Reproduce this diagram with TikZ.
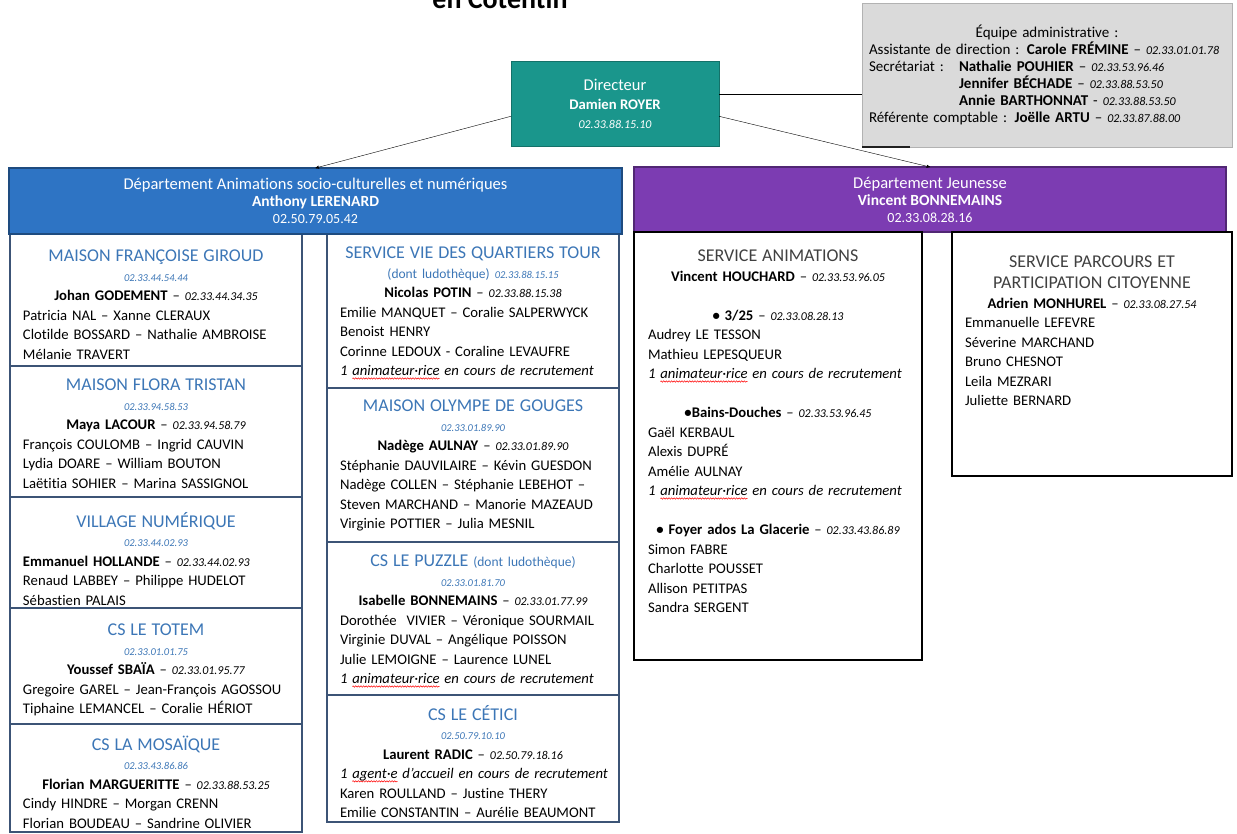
\documentclass[tikz,border=0pt]{standalone}
\usepackage{fontspec}
\setmainfont{Carlito}[Ligatures={TeX,NoCommon}]
\usetikzlibrary{positioning, arrows, decorations.pathmorphing}

\definecolor{dirteal}{RGB}{26,150,140}
\definecolor{socioblue}{RGB}{46,116,196}
\definecolor{jeunpurple}{RGB}{124,60,178}
\definecolor{unitline}{RGB}{60,84,118}
\definecolor{unitblue}{RGB}{60,118,182}
\definecolor{servgray}{RGB}{64,64,64}
\definecolor{admingray}{RGB}{218,218,218}

\setlength{\parindent}{0pt}
\setlength{\parskip}{0pt}

\newsavebox{\wavebox}
\newcommand{\spellwave}[1]{\sbox{\wavebox}{#1}\rlap{\tikz[overlay, baseline=0pt]\draw[red, line width=0.5pt, decorate, decoration={snake, amplitude=0.7pt, segment length=2.6pt}] (0pt,-2.8pt) -- (\the\wd\wavebox,-2.8pt);}#1}

\newcommand{\unittitle}[1]{{\fontsize{18}{19.5}\selectfont\color{unitblue}#1}}
\newcommand{\servtitle}[1]{{\fontsize{18}{19.5}\selectfont\color{servgray}#1}}
\newcommand{\unittel}[1]{{\fontsize{10.5}{19.5}\selectfont\itshape\color{unitblue}#1}}
\newcommand{\ludo}{{\fontsize{13.5}{19.5}\selectfont\color{unitblue}(dont ludothèque)}}
\newcommand{\ph}[1]{{\fontsize{12}{19.5}\selectfont\itshape#1}}
\newcommand{\lead}[2]{\textbf{#1} – \ph{#2}}
\newcommand{\recrut}[1]{\textit{1 \spellwave{#1} en cours de recrutement}}

\tikzset{
    every node/.style={inner sep=0pt, outer sep=0pt, font=\fontsize{14.7}{19.5}\selectfont},
    link/.style={->, >=stealth', thin},
    dirbox/.style={fill=dirteal, draw=dirteal!75!black, text=white, minimum width=208, minimum height=85, align=center, font=\fontsize{14.7}{19}\selectfont},
    head/.style={fill=#1, draw=#1!65!black, line width=1.2pt, text=white, anchor=north west, align=center, font=\fontsize{15.5}{17}\selectfont},
    unit/.style={draw=unitline, line width=1.6pt, minimum width=292, anchor=north},
    service/.style={draw=black, line width=1.3pt, anchor=north west},
    txt/.style={text width=#1, anchor=north}
}

\begin{document}
\begin{tikzpicture}[x=1pt, y=-1pt]
\useasboundingbox (0,0) rectangle (1237,833);
\clip (0,0) rectangle (1237,833);

\node[anchor=base, font=\fontsize{28}{30}\selectfont\bfseries] (city) at (500,8) {en Cotentin};

\node[dirbox] (dir) at (615,103.5) {{\fontsize{16.5}{19}\selectfont Directeur}\\ \textbf{Damien ROYER}\\ \ph{02.33.88.15.10}};

\node[fill=admingray, draw=gray!60, line width=1pt, minimum width=370, minimum height=144, anchor=north west, text width=356, font=\fontsize{15}{17}\selectfont] (admin) at (862,3) {
    {\centering Équipe administrative :\par}
    Assistante de direction : \lead{Carole FRÉMINE}{02.33.01.01.78}\\
    \makebox[90pt][l]{Secrétariat :}\lead{Nathalie POUHIER}{02.33.53.96.46}\\
    \hspace*{90pt}\lead{Jennifer BÉCHADE}{02.33.88.53.50}\\
    \hspace*{90pt}\textbf{Annie BARTHONNAT} - \ph{02.33.88.53.50}\\
    Référente comptable : \lead{Joëlle ARTU}{02.33.87.88.00}};
\draw[line width=1.2pt, gray!25!black] (admin.south west) -- ++(48,0);

\node[unit, minimum height=132] (giroud) at (156,234) {};
\node[unit, minimum height=131, below=0pt of giroud] (flora) {};
\node[unit, minimum height=111, below=0pt of flora] (village) {};
\node[unit, minimum height=116, below=0pt of village] (totem) {};
\node[unit, minimum height=108, below=0pt of totem] (mosaique) {};

\node[unit, minimum height=154] (quartiers) at (473,234) {};
\node[unit, minimum height=154, below=0pt of quartiers] (olympe) {};
\node[unit, minimum height=153, below=0pt of olympe] (puzzle) {};
\node[unit, minimum height=127, below=0pt of puzzle] (cetici) {};

\node[head=socioblue, minimum width=613, minimum height=66] (socio) at (9,168) {{\fontsize{16.5}{17}\selectfont Département Animations socio-culturelles et numériques}\\ \textbf{Anthony LERENARD}\\ {\fontsize{14}{17}\selectfont 02.50.79.05.42}};

\node[txt=266, below=16pt of giroud.north] (giroudtxt) {
    {\centering\unittitle{MAISON FRANÇOISE GIROUD}\\ \unittel{02.33.44.54.44}\\ \lead{Johan GODEMENT}{02.33.44.34.35}\par}
    Patricia NAL – Xanne CLERAUX\\
    Clotilde BOSSARD – Nathalie AMBROISE\\
    Mélanie TRAVERT};
\node[txt=266, below=13pt of flora.north] (floratxt) {
    {\centering\unittitle{MAISON FLORA TRISTAN}\\ \unittel{02.33.94.58.53}\\ \lead{Maya LACOUR}{02.33.94.58.79}\par}
    François COULOMB – Ingrid CAUVIN\\
    Lydia DOARE – William BOUTON\\
    Laëtitia SOHIER – Marina SASSIGNOL};
\node[txt=266, below=15pt of village.north] (villagetxt) {
    {\centering\unittitle{VILLAGE NUMÉRIQUE}\\ \unittel{02.33.44.02.93}\par}
    \lead{Emmanuel HOLLANDE}{02.33.44.02.93}\\
    Renaud LABBEY – Philippe HUDELOT\\
    Sébastien PALAIS};
\node[txt=266, below=16pt of totem.north] (totemtxt) {
    {\centering\unittitle{CS LE TOTEM}\\ \unittel{02.33.01.01.75}\\ \lead{Youssef SBAÏA}{02.33.01.95.77}\par}
    Gregoire GAREL – Jean-François AGOSSOU\\
    Tiphaine LEMANCEL – Coralie HÉRIOT};
\node[txt=266, below=12pt of mosaique.north] (mosaiquetxt) {
    {\centering\unittitle{CS LA MOSAÏQUE}\\ \unittel{02.33.43.86.86}\\ \lead{Florian MARGUERITTE}{02.33.88.53.25}\par}
    Cindy HINDRE – Morgan CRENN\\
    Florian BOUDEAU – Sandrine OLIVIER};

\node[txt=266, below=13pt of quartiers.north] (quartierstxt) {
    {\centering\unittitle{SERVICE VIE DES QUARTIERS TOUR}\\ \ludo{} \unittel{02.33.88.15.15}\\ \lead{Nicolas POTIN}{02.33.88.15.38}\par}
    Emilie MANQUET – Coralie SALPERWYCK\\
    Benoist HENRY\\
    Corinne LEDOUX - Coraline LEVAUFRE\\
    \recrut{animateur·rice}};
\node[txt=266, below=12pt of olympe.north] (olympetxt) {
    {\centering\unittitle{MAISON OLYMPE DE GOUGES}\\ \unittel{02.33.01.89.90}\\ \lead{Nadège AULNAY}{02.33.01.89.90}\par}
    Stéphanie DAUVILAIRE – Kévin GUESDON\\
    Nadège COLLEN – Stéphanie LEBEHOT –\\
    Steven MARCHAND – Manorie MAZEAUD\\
    Virginie POTTIER – Julia MESNIL};
\node[txt=266, below=13pt of puzzle.north] (puzzletxt) {
    {\centering\unittitle{CS LE PUZZLE} \ludo\\ \unittel{02.33.01.81.70}\\ \lead{Isabelle BONNEMAINS}{02.33.01.77.99}\par}
    Dorothée\ \ VIVIER – Véronique SOURMAIL\\
    Virginie DUVAL – Angélique POISSON\\
    Julie LEMOIGNE – Laurence LUNEL\\
    \recrut{animateur·rice}};
\node[txt=266, below=10pt of cetici.north] (cetcitxt) {
    {\centering\unittitle{CS LE CÉTICI}\\ \unittel{02.50.79.10.10}\\ \lead{Laurent RADIC}{02.50.79.18.16}\par}
    \mbox{\textit{1 \spellwave{agent·e} d’accueil en cours de recrutement}}\\
    Karen ROULLAND – Justine THERY\\
    Emilie CONSTANTIN – Aurélie BEAUMONT};

\node[head=jeunpurple, minimum width=592, minimum height=65] (jeun) at (634,167) {{\fontsize{16.5}{17}\selectfont Département Jeunesse}\\ \textbf{Vincent BONNEMAINS}\\ {\fontsize{14}{17}\selectfont 02.33.08.28.16}};

\node[service, minimum width=288, minimum height=428] (anim) at (634,232) {};
\node[service, minimum width=280, minimum height=244] (parcours) at (952,232) {};

\node[txt=260, below=18pt of anim.north] (animtxt) {
    {\centering\servtitle{SERVICE ANIMATIONS}\\ \lead{Vincent HOUCHARD}{02.33.53.96.05}\\[19.5pt] \lead{• 3/25}{02.33.08.28.13}\par}
    Audrey LE TESSON\\
    Mathieu LEPESQUEUR\\
    \recrut{animateur·rice}\par
    \vspace{19.5pt}
    {\centering\lead{•Bains-Douches}{02.33.53.96.45}\par}
    Gaël KERBAUL\\
    Alexis DUPRÉ\\
    Amélie AULNAY\\
    \recrut{animateur·rice}\par
    \vspace{19.5pt}
    {\centering\lead{• Foyer ados La Glacerie}{02.33.43.86.89}\par}
    Simon FABRE\\
    Charlotte POUSSET\\
    Allison PETITPAS\\
    Sandra SERGENT};
\node[txt=254, below=24pt of parcours.north] (parcourstxt) {
    {\centering\servtitle{SERVICE PARCOURS ET}\\[1.5pt] \servtitle{PARTICIPATION CITOYENNE}\\ \lead{Adrien MONHUREL}{02.33.08.27.54}\par}
    Emmanuelle LEFEVRE\\
    Séverine MARCHAND\\
    Bruno CHESNOT\\
    Leila MEZRARI\\
    Juliette BERNARD};

\draw[link] (dir.187) -- (socio.north);
\draw[link] (dir.-7) -- (jeun.north);
\draw (dir.5) -- (dir.5 -| admin.west);
\end{tikzpicture}
\end{document}
